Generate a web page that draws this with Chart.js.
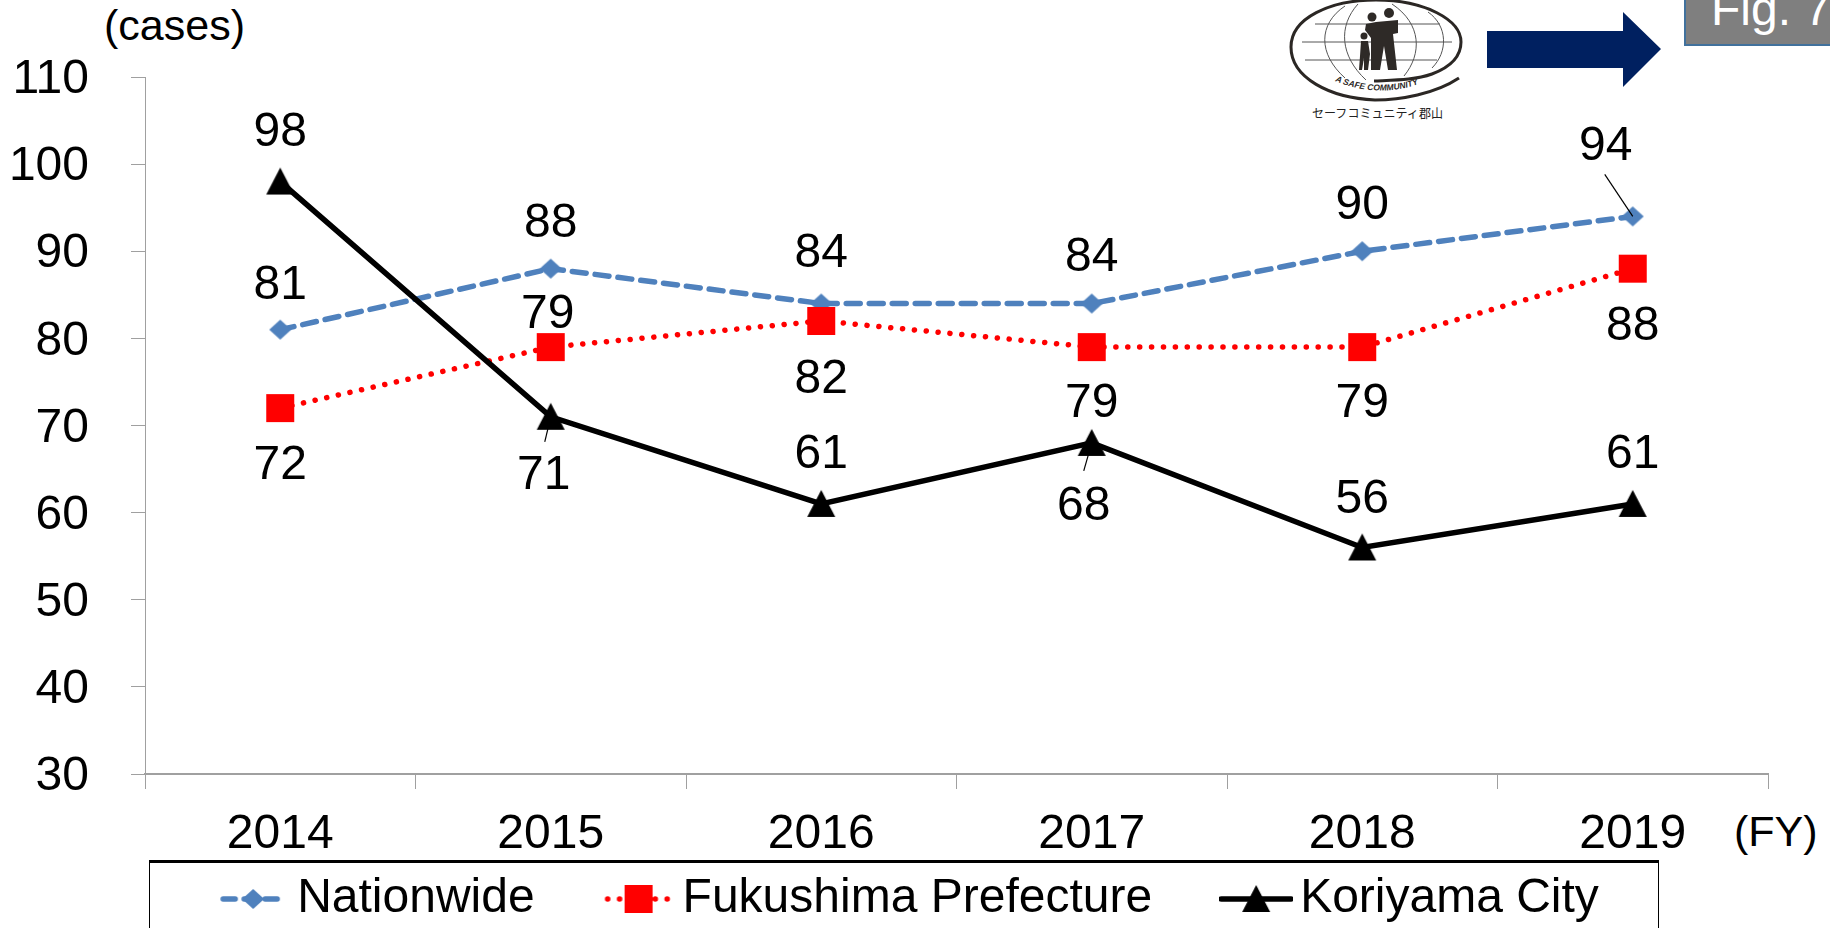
<!DOCTYPE html>
<html><head><meta charset="utf-8">
<style>
html,body{margin:0;padding:0;background:#fff;overflow:hidden;width:1830px;height:928px}
#wrap{position:relative;width:1830px;height:928px;overflow:hidden;font-family:"Liberation Sans",Arial,sans-serif}
canvas{position:absolute;left:0;top:0}
.t{position:absolute;color:#000;font-size:43px;line-height:48px;white-space:nowrap}
#frame{position:absolute;left:149px;top:860px;width:1510px;height:90px;border:1px solid #000;border-top:3px solid #000;box-sizing:border-box}
#fig{position:absolute;left:1684px;top:-24px;width:170px;height:70px;background:#7f7f7f;border:2px solid #41719c;box-sizing:border-box;color:#fff;font-size:48px;line-height:48px}
#fig span{position:absolute;left:25px;top:7px;white-space:nowrap}
svg{position:absolute;left:0;top:0}
</style></head>
<body><div id="wrap">
<div id="frame"></div>
<svg width="1830" height="928" viewBox="0 0 1830 928">
  <polygon points="1487,31 1623,31 1623,12 1661,49 1623,87 1623,68 1487,68" fill="#002060"/>
  <g fill="none" stroke="#2b2724">
    <path d="M1459,78 C1435,94 1400,100 1375,100 C1330,98 1291,78 1291,47 C1291,18 1330,0 1376,0 C1425,0 1461,20 1461,42 C1461,58 1448,68 1432,74 C1415,80 1395,80 1374,81" stroke-width="3"/>
    <g stroke-width="1" stroke="#555">
      <path d="M1315,24 H1440 M1302,42 H1452 M1305,60 H1437"/>
      <path d="M1345,6 C1318,24 1318,54 1345,78 M1358,4 C1338,26 1340,56 1366,80 M1392,4 C1422,24 1422,54 1404,76 M1428,12 C1448,26 1448,52 1432,68"/>
    </g>
  </g>
  <g fill="#2e2a27">
    <circle cx="1372" cy="17" r="4.5"/><circle cx="1389" cy="13" r="5"/><circle cx="1364" cy="36" r="3.5"/>
    <path d="M1366,24 L1376,22 L1398,20 L1398,33 L1393,34 L1397,70 L1388,70 L1384,46 L1380,70 L1371,70 L1371,38 L1365,30 Z"/>
    <path d="M1361,41 L1368,41 L1370,54 L1368,70 L1364,70 L1364,58 L1362,70 L1359,70 L1360,56 Z"/>
  </g>
  <path id="arc" d="M1335,81 C1360,92 1392,94 1418,84" fill="none"/>
  <text font-family="Liberation Sans" font-size="8.5" font-weight="bold" font-style="italic" fill="#2b2724"><textPath href="#arc">A SAFE COMMUNITY</textPath></text>
  <text x="1312" y="118" font-family="Noto Sans CJK JP" font-size="12.5" fill="#222" textLength="131" lengthAdjust="spacingAndGlyphs">セーフコミュニティ郡山</text>
</svg>
<div id="fig"><span>Fig. 7</span></div>
<div class="t" style="left:104px;top:1px">(cases)</div>
<div class="t" style="left:1734px;top:807px">(FY)</div>
<canvas id="c" width="1830" height="928"></canvas>
</div>
<script src="https://cdn.jsdelivr.net/npm/chart.js@4"></script>
<script>
const categories = ['2014','2015','2016','2017','2018','2019'];
const yTicksMin = 30, yTicksMax = 110, yStep = 10;
const seriesNames = ['Nationwide','Fukushima Prefecture','Koriyama City'];
const nationwide = [81,88,84,84,90,94];
const fukushima  = [72,79,82,79,79,88];
const koriyama   = [98,71,61,68,56,61];

// label placement relative to each point (styling, not data)
const nationwideOffsets = [[0,-44],[0,-45],[0,-50],[0,-46],[0,-45],[-27,-70]];
const fukushimaOffsets  = [[0,58],[-3,-32],[0,59],[0,57],[0,57],[0,58]];
const koriyamaOffsets   = [[0,-49],[-7,59],[0,-49],[-8,64],[0,-48],[0,-49]];
const leaderLines = {'0:5':[-28,-42],'2:1':[-6,25],'2:3':[-8,28]};

const FONT = '"Liberation Sans", Arial, sans-serif';
const BLUE='#4f81bd', RED='#ff0000', BLACK='#000000';

function mk(w,h){const c=document.createElement('canvas');c.width=w;c.height=h;return c;}
function drawGlyph(g,kind,cx,cy){
  if(kind==='diamond'){g.fillStyle=BLUE;g.beginPath();g.moveTo(cx,cy-10);g.lineTo(cx+11,cy);g.lineTo(cx,cy+10);g.lineTo(cx-11,cy);g.closePath();g.fill();}
  if(kind==='square'){g.fillStyle=RED;g.fillRect(cx-14,cy-14,28,28);}
  if(kind==='triangle'){g.fillStyle=BLACK;g.beginPath();g.moveTo(cx,cy-14);g.lineTo(cx+14,cy+13);g.lineTo(cx-14,cy+13);g.closePath();g.fill();}
}
function marker(kind){const c=mk(40,40);drawGlyph(c.getContext('2d'),kind,20,20);return c;}
function legendSwatch(kind){
  const W=74,H=40,c=mk(W,H),g=c.getContext('2d'),cy=20,cx=W/2;
  g.lineCap='round';
  if(kind==='diamond'){g.strokeStyle=BLUE;g.lineWidth=5.5;g.setLineDash([12,9]);g.beginPath();g.moveTo(cx-30,cy);g.lineTo(cx+30,cy);g.stroke();}
  if(kind==='square'){g.strokeStyle=RED;g.lineWidth=5.5;g.setLineDash([0.1,11.8]);g.beginPath();g.moveTo(cx-31,cy);g.lineTo(cx+31,cy);g.stroke();}
  if(kind==='triangle'){g.strokeStyle=BLACK;g.lineWidth=5.5;g.beginPath();g.moveTo(cx-35,cy);g.lineTo(cx+35,cy);g.stroke();}
  g.setLineDash([]);drawGlyph(g,kind,cx,cy);return c;
}
const kinds=['diamond','square','triangle'];

const labelPlugin={id:'pointLabels',
  afterDatasetsDraw(chart){
    const g=chart.ctx,offs=[nationwideOffsets,fukushimaOffsets,koriyamaOffsets];
    g.save();
    chart.data.datasets.forEach((ds,d)=>{
      const meta=chart.getDatasetMeta(d);
      meta.data.forEach((pt,i)=>{
        const lead=leaderLines[d+':'+i];
        if(lead){g.strokeStyle='#000';g.lineWidth=1.2;g.beginPath();g.moveTo(pt.x,pt.y);g.lineTo(pt.x+lead[0],pt.y+lead[1]);g.stroke();}
      });
    });
    g.fillStyle='#000';g.font='48px '+FONT;g.textAlign='center';g.textBaseline='middle';
    chart.data.datasets.forEach((ds,d)=>{
      const meta=chart.getDatasetMeta(d);
      meta.data.forEach((pt,i)=>{g.fillText(String(ds.data[i]),pt.x+offs[d][i][0],pt.y+offs[d][i][1]);});
    });
    g.restore();
  }};
const legendPlace={id:'legendPlace',
  afterLayout(chart){
    const l=chart.legend;l.top=791;l.bottom=l.top+l.height;l.left=6;l.right=1826;
    const s=chart.scales.y;
    if(!s._nudged){
      const orig=s._computeLabelItems;
      s._computeLabelItems=function(a){const r=orig.call(this,a);r.forEach(it=>{it.options.translation[1]+=3;});return r;};
      s._nudged=true;s._labelItems=null;
    }
  }
};

new Chart(document.getElementById('c'),{
  type:'line',
  data:{labels:categories,datasets:[
    {label:seriesNames[0],data:nationwide,borderColor:BLUE,backgroundColor:BLUE,borderWidth:5.5,borderDash:[14,9],borderCapStyle:'round',pointStyle:marker('diamond'),order:2,tension:0},
    {label:seriesNames[1],data:fukushima,borderColor:RED,backgroundColor:RED,borderWidth:5.5,borderDash:[0.1,11.8],borderCapStyle:'round',pointStyle:marker('square'),order:1,tension:0},
    {label:seriesNames[2],data:koriyama,borderColor:BLACK,backgroundColor:BLACK,borderWidth:5.5,pointStyle:marker('triangle'),order:0,tension:0}
  ]},
  options:{
    responsive:false,animation:false,devicePixelRatio:1,
    layout:{padding:{left:0,right:62,top:77,bottom:-127}},
    scales:{
      x:{type:'category',offset:true,
        grid:{offset:true,drawOnChartArea:false,drawTicks:true,tickLength:15,color:'#a0a0a0',lineWidth:1},
        border:{color:'#a0a0a0',width:2},
        ticks:{color:'#000',font:{family:FONT,size:48},padding:17,maxRotation:0,autoSkip:false},
        afterFit(s){s.height=139;}},
      y:{type:'linear',min:yTicksMin,max:yTicksMax,
        grid:{drawOnChartArea:false,drawTicks:true,tickLength:14,color:'#a0a0a0',lineWidth:1},
        border:{color:'#a0a0a0',width:1},
        ticks:{color:'#000',font:{family:FONT,size:48},stepSize:yStep,padding:42,autoSkip:false},
        afterFit(s){s.width=145;}}
    },
    plugins:{
      tooltip:{enabled:false},
      legend:{display:true,position:'bottom',
        labels:{usePointStyle:true,pointStyleWidth:40,padding:84,color:'#000',font:{family:FONT,size:48},
          generateLabels(chart){return chart.data.datasets.map((ds,i)=>({text:ds.label,pointStyle:legendSwatch(kinds[i]),datasetIndex:i,fontColor:'#000',hidden:false,lineWidth:0,strokeStyle:'transparent',fillStyle:'transparent'}));}
        }}
    }
  },
  plugins:[labelPlugin,legendPlace]
});
</script>
</body></html>
